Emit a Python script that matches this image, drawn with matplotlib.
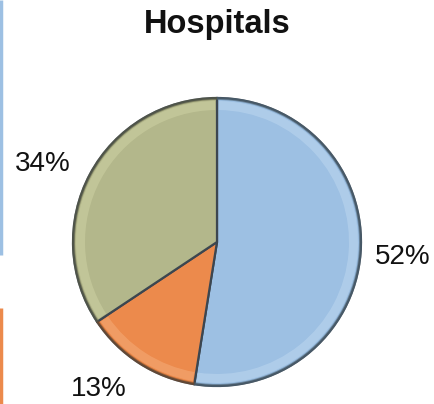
import numpy as np
import matplotlib
matplotlib.use('Agg')
import matplotlib.pyplot as plt
from matplotlib.patches import Wedge

plt.rcParams['font.family'] = ['Liberation Sans', 'DejaVu Sans']

title = 'Hospitals'
shares = [52, 13, 34]
labels = ['52%', '13%', '34%']
colors = ['#9dc0e3', '#ec8a4c', '#b3b78b']
rims = ['#c4dcf2', '#f7b483', '#d4d7a8']
edges = ['#4f6678', '#7a4a25', '#5c5e45']

fig = plt.figure(figsize=(4.35, 4.04), dpi=100)
ax = fig.add_axes([0, 0, 1, 1])
W, H = 435, 404
cx, cy, r = 217, H - 242, 144

wedges, _ = ax.pie(shares, colors=colors, startangle=90, counterclock=False,
                   center=(cx, cy), radius=r,
                   wedgeprops=dict(edgecolor='#3c4650', linewidth=1.6))

# bevel: lighter rim inside each slice, dark rim outside
for w, rim, ed in zip(wedges, rims, edges):
    ax.add_patch(Wedge((cx, cy), r - 3, w.theta1 + 0.8, w.theta2 - 0.8, width=9,
                       facecolor=rim, edgecolor='none', alpha=0.45))
    ax.add_patch(Wedge((cx, cy), r + 1, w.theta1, w.theta2, width=3,
                       facecolor=ed, edgecolor='none', alpha=0.6))

# percentage labels
label_r = [1.29, 1.31, 1.33]
nudge = [0, -6, 4]
for w, lab, lr, dn in zip(wedges, labels, label_r, nudge):
    mid = np.deg2rad((w.theta1 + w.theta2) / 2 + dn)
    ax.text(cx + lr * r * np.cos(mid), cy + lr * r * np.sin(mid), lab,
            ha='center', va='center', fontsize=20, color='#111111')

ax.text(cx, H - 24, title, ha='center', va='center', fontsize=23.5,
        fontweight='bold', color='#111111')

# cut-off bars at the left edge
ax.plot([1, 1], [H, H - 255], color='#9dc0e3', lw=2.5, solid_capstyle='butt')
ax.plot([1, 1], [H - 308, 0], color='#ec8a4c', lw=2.5, solid_capstyle='butt')

ax.set_xlim(0, W)
ax.set_ylim(0, H)
ax.set_aspect('equal')
ax.axis('off')
fig.savefig('out.png', dpi=100)
